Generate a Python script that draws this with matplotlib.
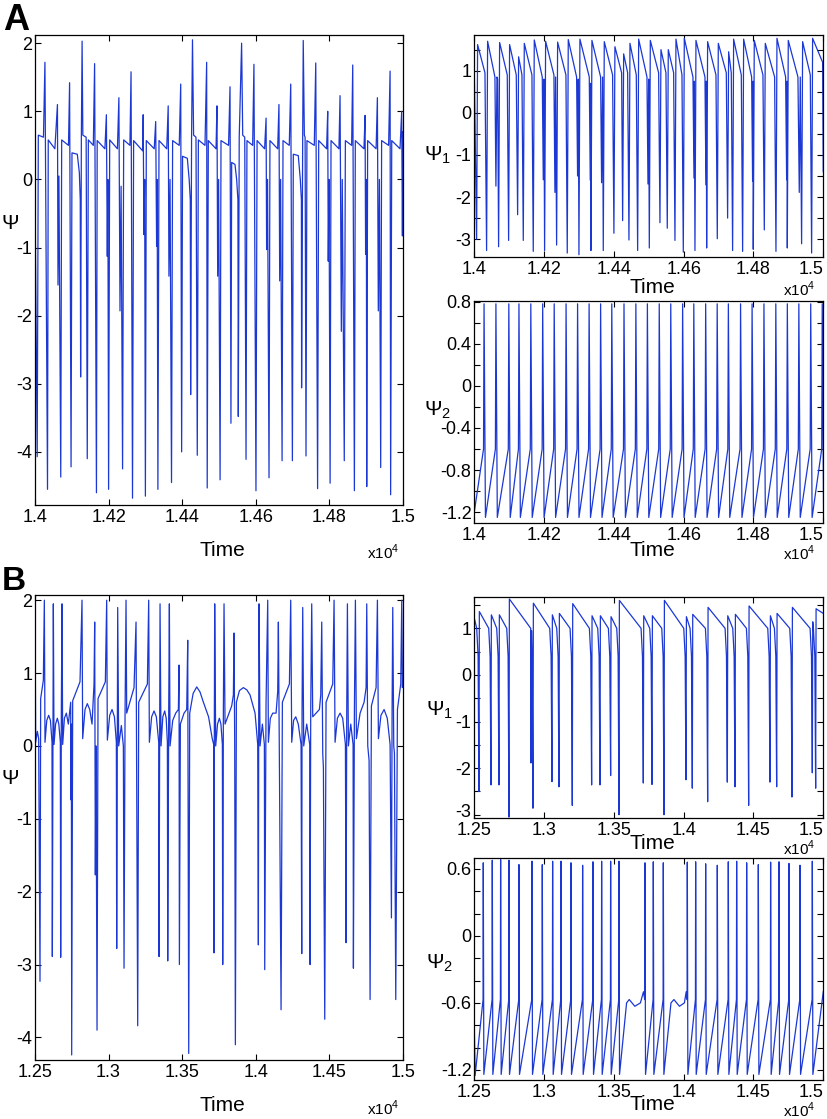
import matplotlib
matplotlib.use('Agg')
import matplotlib.pyplot as plt
from matplotlib.transforms import ScaledTranslation

plt.rcParams['font.family'] = ['Liberation Sans', 'DejaVu Sans']
plt.rcParams['axes.unicode_minus'] = False

# ---------------- data ----------------
# panel A, left: Psi, (time, value) vertices
psiA = [(14000, -0.2), (14006, -4.07), (14009, 0.65), (14023, 0.62), (14027, 1.72), (14034, -4.55),
        (14036, 0.58), (14054, 0.45), (14061, 1.1), (14062.5, -1.55), (14065, 0.05), (14070, -4.37),
        (14072.5, 0.58), (14091, 0.5), (14094, 1.42), (14098, -4.22), (14100.5, 0.39), (14115, 0.37),
        (14120.5, 0.1), (14123, -0.3), (14124, -2.9), (14126, 0.62), (14128, 2.03), (14130, 0.65),
        (14139, 0.62), (14142, -4.1), (14145, 0.58), (14158.5, 0.5), (14162, 1.7), (14167, -4.6),
        (14169, 0.57), (14190, 0.45), (14194, 0.95), (14196.5, -1.13), (14198, 0.0), (14200, -4.55),
        (14203, 0.58), (14224, 0.45), (14228, 1.2), (14231, -1.93), (14234, -0.1), (14238, -4.25),
        (14241, 0.58), (14258, 0.5), (14261, 1.58), (14265, -4.68), (14268, 0.57), (14292.5, 0.42),
        (14294, 0.95), (14296, -0.81), (14298, 0.0), (14300, -4.65), (14302.5, 0.57), (14324, 0.45),
        (14328, 0.85), (14330.5, -0.98), (14332, 0.0), (14334, -4.55), (14337, 0.57), (14358, 0.45),
        (14362, 1.08), (14364, -1.42), (14367, 0.0), (14371, -4.45), (14374, 0.57), (14392, 0.5),
        (14396, 1.4), (14398.5, -4.0), (14401, 0.34), (14414, 0.31), (14419, 0.0), (14422, -0.3),
        (14423, -3.16), (14425.5, 0.62), (14428, 2.05), (14431, 0.65), (14437.5, 0.62), (14441, -4.05),
        (14444, 0.58), (14462, 0.5), (14466.5, 1.72), (14468, -4.53), (14471, 0.57), (14492, 0.45),
        (14494.5, 1.08), (14496.5, -1.42), (14499, 0.0), (14503, -4.41), (14505.5, 0.57), (14526, 0.5),
        (14530, 1.36), (14532.5, -3.58), (14534.5, 0.25), (14543.5, 0.22), (14548, 0.0), (14551.5, -0.3),
        (14552.5, -3.48), (14555, 0.62), (14561.5, 2.0), (14564.5, 0.65), (14570, 0.62), (14573.5, -4.11),
        (14576, 0.57), (14591.5, 0.5), (14595, 1.69), (14600.5, -4.57), (14603.5, 0.57), (14624, 0.45),
        (14628, 0.9), (14629.5, -1.03), (14632, 0.0), (14636, -4.38), (14638.5, 0.57), (14659.5, 0.45),
        (14663, 1.1), (14665, -1.49), (14667.5, 0.0), (14671.5, -4.13), (14674, 0.57), (14691, 0.5),
        (14695, 1.4), (14699.5, -4.13), (14702, 0.37), (14715.5, 0.35), (14721, 0.0), (14724, -0.3),
        (14724.5, -3.06), (14727.5, 0.62), (14729, 2.04), (14732, 0.65), (14734, 0.62), (14736.5, -4.06),
        (14739, 0.57), (14759, 0.5), (14763, 1.71), (14768, -4.54), (14771, 0.57), (14792.5, 0.45),
        (14795.5, 1.0), (14797, -1.2), (14799, 0.0), (14802, -4.46), (14804.5, 0.57), (14826, 0.45),
        (14829, 1.23), (14832.5, -2.23), (14835, 0.0), (14840.5, -4.13), (14843.5, 0.57), (14860.5, 0.5),
        (14863.5, 1.68), (14868, -4.57), (14870.5, 0.57), (14894, 0.45), (14897, 0.94), (14898.5, -1.1),
        (14900.5, 0.0), (14901.5, -4.51), (14904, 0.57), (14927, 0.45), (14930.5, 1.2), (14933, -1.93),
        (14936, 0.0), (14939.5, -4.23), (14942, 0.57), (14961, 0.5), (14965, 1.59), (14966.5, -4.63),
        (14969.5, 0.57), (14992, 0.45), (14996.5, 1.0), (14998.5, -0.83), (15000, 0.7)]

# panel A, Psi1
psi1A = [(14000, 1.0), (14006.7, -3.0), (14009.5, 1.62), (14030.6, 0.95), (14035.3, -3.27), (14038.2, 1.7),
         (14059.2, 0.85), (14062, -1.74), (14065, 0.85), (14066.9, 0.8), (14069.7, -3.18), (14072.6, 1.67),
         (14094.5, 0.9), (14098.4, -3.03), (14101.2, 1.62), (14120.3, 0.9), (14124.2, -2.42), (14127, 1.33),
         (14136.6, 0.9), (14140.4, -3.03), (14143.3, 1.65), (14165.2, 0.9), (14169, -3.29), (14171.9, 1.73),
         (14194.8, 0.85), (14197.7, -1.59), (14199.6, 0.8), (14201.5, -3.27), (14204.4, 1.7), (14228.2, 0.9),
         (14231.1, -1.89), (14233, 0.85), (14235.9, -3.14), (14238.8, 1.68), (14262.6, 0.9), (14266.4, -3.33),
         (14269.3, 1.74), (14293.2, 0.85), (14296, -1.5), (14298, 0.8), (14299.9, -3.37), (14302.7, 1.75),
         (14329.5, 0.85), (14332.3, -1.6), (14333.3, 0.7), (14334.3, -3.27), (14337.1, 1.72), (14362, 0.85),
         (14364.8, -1.66), (14367.7, 0.85), (14369.6, -3.27), (14372.5, 1.69), (14396.3, 0.9), (14400.1, -2.86),
         (14403, 1.57), (14422.2, 0.95), (14425.1, -2.56), (14428, 1.4), (14439.4, 0.95), (14443.2, -3.02),
         (14446.1, 1.65), (14464.2, 0.9), (14468.1, -3.27), (14471, 1.75), (14494.8, 0.85), (14497.7, -1.69),
         (14499.6, 0.8), (14501.5, -3.21), (14504.4, 1.72), (14528.2, 0.95), (14532, -2.61), (14534.9, 1.5),
         (14549.2, 0.95), (14553, -2.74), (14555.9, 1.5), (14571.2, 0.95), (14575, -3.03), (14577.9, 1.75),
         (14595.1, 0.9), (14598.9, -3.31), (14601.8, 1.77), (14626.6, 0.85), (14629.5, -1.55), (14630.4, 0.75),
         (14632.3, -3.27), (14635.2, 1.72), (14661, 0.85), (14663.8, -1.71), (14664.8, 0.75), (14665.8, -3.21),
         (14668.6, 1.69), (14692.5, 0.9), (14696.3, -2.99), (14699.2, 1.65), (14722.1, 0.95), (14725.9, -2.5),
         (14728.8, 1.45), (14736.4, 0.95), (14740.2, -3.27), (14743.1, 1.75), (14765.1, 0.9), (14768.9, -3.29),
         (14771.8, 1.75), (14794.7, 0.85), (14797.5, -1.63), (14798.5, 0.75), (14799.4, -3.24), (14802.3, 1.72),
         (14827.1, 0.9), (14831, -2.78), (14833.8, 1.65), (14860.6, 0.85), (14864.4, -3.29), (14867.3, 1.77),
         (14892.1, 0.85), (14895, -1.59), (14895.9, 0.75), (14896.9, -3.21), (14899.7, 1.72), (14927.4, 0.85),
         (14931.2, -1.89), (14934.1, 0.85), (14937.9, -3.11), (14940.8, 1.69), (14962.8, 0.9), (14966.6, -3.33),
         (14969.4, 1.77), (14998.1, 1.2), (15000, -1.4)]

# panel A, Psi2: spike times, all spikes reach the same top/bottom
psi2A_spikes = [14028, 14062, 14099, 14128, 14162, 14196, 14229, 14263, 14296, 14329, 14362, 14394,
                14429, 14463, 14496, 14530, 14563, 14597, 14629, 14663, 14696, 14728, 14763, 14796,
                14830, 14864, 14897, 14930, 14964, 14997]
psi2A_start = [(14000, -1.2)]
psi2A_peak, psi2A_trough, psi2A_pre = 0.78, -1.25, -0.6

# panel B, left: Psi
psiB = [(12500, 1.95), (12504.5, 0.05), (12515.9, 0.2), (12524.9, 0.1), (12534, -3.23), (12538.5, 0.65),
        (12556.7, 0.9), (12563.5, 2.0), (12568, 0.05), (12580, 0.35), (12592.9, 0.42), (12605, 0.35),
        (12615.6, 0.05), (12617.9, -2.89),
        (12622.4, 0.5), (12624.7, 1.95), (12629.2, 0.02), (12640, 0.3), (12651.9, 0.38), (12662, 0.3),
        (12672.3, 0.05), (12674.6, -2.9),
        (12679.1, 0.5), (12683.6, 1.95), (12688.2, 0.02), (12700, 0.38), (12713.1, 0.45), (12726.7, 0.3),
        (12742.6, 0.6),
        (12744.8, -0.74), (12747.1, 0.3), (12749.4, -4.24), (12756.2, 0.62), (12806, 0.88), (12819.6, 2.0),
        (12824.2, 0.1), (12840, 0.5), (12855.9, 0.58), (12872, 0.5), (12887.7, 0.3), (12901.3, 0.85),
        (12905.8, 1.7), (12910.3, -1.77),
        (12914.9, 0.0), (12921.7, -3.9), (12928.5, 0.65), (12978.3, 0.88), (12987.4, 2.0), (12991.9, 0.08),
        (13008, 0.42), (13023.7, 0.5), (13040, 0.4), (13053.1, 0.05), (13055.4, -2.78), (13059.9, 0.5),
        (13062.2, 1.9), (13069, 0.0),
        (13087.1, 0.28), (13100.8, 0.0), (13105.3, -3.05), (13112.1, 0.4), (13118.9, 2.0), (13123.4, 0.45),
        (13173.3, 0.8), (13186.9, 1.7), (13191.4, -0.4), (13198.2, -3.84), (13205, 0.6), (13264, 0.85),
        (13273, 2.0), (13277.6, 0.05), (13293, 0.4), (13309.3, 0.48), (13325, 0.4), (13341.1, 0.05),
        (13343.3, -2.89), (13347.9, 0.5),
        (13350.1, 1.95), (13356.9, 0.0), (13369, 0.4), (13381.9, 0.48), (13392, 0.38), (13400, 0.05),
        (13402.3, -2.95), (13409.1, 0.5),
        (13413.6, 1.95), (13418.1, 0.0), (13436.3, 0.35), (13456.7, 0.45), (13474.8, 0.5), (13479.3, 1.11),
        (13481.6, -3.0), (13488.4, 0.3), (13513.3, 0.45), (13531.5, 0.5), (13538.3, 1.45), (13545.1, -4.22),
        (13551.9, 0.45), (13575, 0.72), (13599.5, 0.81), (13622, 0.74), (13644.8, 0.6), (13680, 0.4),
        (13705, 0.1), (13714.9, 0.02),
        (13717.2, -2.84), (13719.5, 0.5), (13721.7, 1.95), (13728.5, 0.0), (13741, 0.3), (13753.5, 0.38),
        (13764, 0.3), (13773.9, 0.02),
        (13776.2, -3.0), (13780.7, 0.5), (13785.2, 1.95), (13792, 0.3), (13837.4, 0.55), (13848.7, 0.7),
        (13853.2, 1.55), (13857.8, 0.0), (13862.3, -4.1), (13869.1, 0.6), (13890, 0.76), (13916.7, 0.8),
        (13940, 0.77), (13962, 0.7),
        (13996.1, 0.45), (14014.2, 0.02), (14018.7, -2.73), (14021, 0.5), (14023.3, 1.95), (14030.1, 0.0),
        (14045.9, 0.3), (14059.5, 0.02), (14061.8, -3.07), (14070.9, 0.6), (14082.2, 2.0), (14086.7, 0.05),
        (14100, 0.38), (14116.2, 0.45), (14138.9, 0.45), (14150.2, 0.75), (14154.7, 1.7), (14161.5, -0.2),
        (14172.9, -3.62),
        (14181.9, 0.6), (14229.6, 0.85), (14238.6, 2.0), (14245.4, 0.05), (14258, 0.35), (14272.6, 0.4),
        (14290, 0.3), (14308.9, 0.02),
        (14313.4, -2.85), (14315.7, 0.5), (14320.2, 1.9), (14327, 0.0), (14347.4, 0.3), (14367.8, 0.02),
        (14370.1, -3.0), (14374.6, 0.5), (14381.4, 1.95), (14388.2, 0.4), (14433.6, 0.5), (14442.7, 0.7),
        (14449.5, 1.7), (14456.3, -0.1), (14460.8, -0.3), (14469.9, -3.75), (14478.9, 0.6), (14524.3, 0.85),
        (14533.3, 2.0), (14540.1, 0.05), (14556, 0.38), (14574.1, 0.45), (14592, 0.38), (14610.4, 0.02),
        (14614.9, -2.7), (14619.5, 0.5),
        (14624, 1.95), (14630.8, 0.0), (14646.7, 0.3), (14662.6, 0.02), (14664.8, -3.05), (14671.6, 0.5),
        (14678.4, 2.0), (14685.2, 0.1), (14710.2, 0.45), (14737.4, 0.6), (14751, 0.8), (14755.5, 1.95),
        (14762.3, 0.0), (14771.4, -0.2), (14778.2, -3.48), (14787.2, 0.55), (14819, 0.8), (14828, 2.0),
        (14834.8, 0.1), (14852, 0.42), (14873.4, 0.5), (14895, 0.38), (14914.2, 0.02), (14923.3, -2.36),
        (14927.8, 0.5), (14932.3, 1.9),
        (14939.1, 0.0), (14943.7, -0.1), (14952.7, -3.48), (14964.1, 0.5), (14986.7, 0.85), (14993.5, 2.0),
        (14998, 0.8), (15000, 0.9)]

# panel B, Psi1: fast drops (time, trough) and the peak right after
psi1B_drops = [12533.4, 12619.4, 12676.7, 12748.4, 12920.3, 13056.4, 13106.6, 13202.1, 13340.6,
               13400.3, 13476.7, 13536.5, 13710.8, 13772.9, 13858.9, 14016.5, 14061.8, 14171.7,
               14312.6, 14367.5, 14465.4, 14618.2, 14666.0, 14775.8, 14921.5, 14945.4]
psi1B_troughs = [-2.5, -2.36, -2.36, -3.05, -2.86, -2.29, -2.4, -2.8, -2.36, -2.36, -2.16, -3.0, -2.32,
                 -2.35, -3.0, -2.25, -2.43, -2.72, -2.3, -2.4, -2.8, -2.3, -2.4, -2.62, -2.1, -2.43]
psi1B_peaks = [1.36, 1.29, 1.29, 1.63, 1.54, 1.29, 1.32, 1.53, 1.27, 1.27, 1.25, 1.6, 1.27, 1.27, 1.6,
               1.25, 1.3, 1.45, 1.27, 1.3, 1.48, 1.27, 1.32, 1.45, 1.14, 1.42]
psi1B_extra = [(12500, 1.22), (12745.5, -1.36), (12906, -1.89), (12910, 0.95), (15000, 1.32)]
psi1B_shoulder, psi1B_knee = 1.0, 0.4

# panel B, Psi2: spike times and spike tops
psi2B_spikes = [12564.5, 12629, 12688.7, 12748.4, 12820, 12913.1, 12987.2, 13061.2, 13120.9, 13192.5,
                13276.1, 13350.1, 13412.2, 13476.7, 13536.5, 13722.7, 13782.4, 13854.1, 14026, 14085.7,
                14157.4, 14240.9, 14319.7, 14379.4, 14451.1, 14534.7, 14622.7, 14682.7, 14754.3,
                14833.2, 14921.5]
psi2B_peaks = [0.654, 0.677, 0.683, 0.677, 0.638, 0.668, 0.638, 0.668, 0.668, 0.654, 0.632, 0.663,
               0.668, 0.668, 0.668, 0.654, 0.663, 0.654, 0.66, 0.663, 0.645, 0.632, 0.663, 0.668,
               0.654, 0.638, 0.66, 0.663, 0.648, 0.632, 0.668]
# slow plateaus between spikes, plus start / end of the trace
psi2B_extra = [(12500, -0.8), (12506, -1.25), (13591, -0.6), (13610, -0.57), (13650, -0.63), (13690, -0.6),
               (13712, -0.5), (13909, -0.6), (13930, -0.57), (13970, -0.63), (14005, -0.6), (14018, -0.5),
               (15000, -0.5)]
psi2B_trough, psi2B_pre = -1.24, -0.57

ticksA = [14000, 14200, 14400, 14600, 14800, 15000]
ticksB_left = [12500, 13000, 13500, 14000, 14500, 15000]
ticksB = [12500, 13000, 13500, 14000, 14500, 15000]

BLUE = '#1c38d4'


def unzip(pts):
    pts = sorted(pts)
    return [p[0] for p in pts], [p[1] for p in pts]


def spike_trace(spikes, peaks, trough, pre, extra):
    # each spike: jump up from the pre level, fall back to the trough
    pts = list(extra)
    for t, p in zip(spikes, peaks):
        pts += [(t - 1.5, pre), (t, p), (t + 4, trough)]
    return unzip(pts)


def drop_trace(drops, troughs, peaks, shoulder, knee, extra):
    # slow decay, sharp fall to the trough, sharp rise to the next peak
    pts = list(extra)
    for t, lo, hi in zip(drops, troughs, peaks):
        pts += [(t - 16, shoulder), (t - 6, knee), (t, lo), (t + 3, hi)]
    return unzip(pts)


def style(ax, xlim, xticks, ylim, yticks, ylabels, ylab, ylab_xy, time_y, x10_xy, right_panel):
    ax.set_xlim(*xlim)
    ax.set_ylim(*ylim)
    ax.set_xticks(xticks)
    ax.set_xticklabels(['%g' % (x / 1e4) for x in xticks])
    ax.set_yticks(yticks)
    ax.set_yticklabels(ylabels)
    ax.tick_params(direction='in', top=True, right=True, length=4, width=0.8,
                   labelsize=13, colors='black')
    ax.tick_params(axis='x', pad=3)
    ax.tick_params(axis='y', pad=2)
    if right_panel:
        # last label sits inside the figure, flush with the axis end
        ax.get_xticklabels()[-1].set_ha('right')
    for s in ax.spines.values():
        s.set_linewidth(0.9)
    ax.set_ylabel(ylab, fontsize=15, rotation=0)
    ax.yaxis.set_label_coords(*ylab_xy)
    ax.yaxis.label.set_va('center')
    ax.yaxis.label.set_ha('center')
    ax.set_xlabel('Time', fontsize=15)
    ax.xaxis.set_label_coords(0.51, time_y)
    ax.xaxis.label.set_va('center')
    ax.text(x10_xy[0], x10_xy[1], r'x10$^{\mathregular{4}}$', transform=ax.transAxes,
            ha='center', va='center', fontsize=11)


def lbl(vals, keep):
    return ['%g' % round(v, 1) if keep(v) else '' for v in vals]


fig = plt.figure(figsize=(8.28, 11.19), dpi=100)

# ---- A left
ax = fig.add_axes([0.04227, 0.5487, 0.4444, 0.4200])
t, v = unzip(psiA)
ax.plot(t, v, color=BLUE, lw=0.9)
yt = [-4, -3, -2, -1, 0, 1, 2]
style(ax, (14000, 15000), ticksA, (-4.78, 2.12), yt, lbl(yt, lambda y: True),
      'Ψ', (-0.068, 0.60), -0.097, (0.946, -0.1), False)

# ---- A right top
ax = fig.add_axes([0.5728, 0.7701, 0.4215, 0.1987])
t, v = unzip(psi1A)
ax.plot(t, v, color=BLUE, lw=0.9)
yt = [-3, -2.5, -2, -1.5, -1, -0.5, 0, 0.5, 1, 1.5]
style(ax, (14000, 15000), ticksA, (-3.43, 1.85), yt, lbl(yt, lambda y: y == int(y)),
      'Ψ$_{\\mathregular{1}}$', (-0.105, 0.46), -0.134, (0.93, -0.145), True)

# ---- A right bottom
ax = fig.add_axes([0.5728, 0.5329, 0.4215, 0.1984])
t, v = spike_trace(psi2A_spikes, [psi2A_peak] * len(psi2A_spikes), psi2A_trough, psi2A_pre, psi2A_start)
ax.plot(t, v, color=BLUE, lw=0.9)
yt = [-1.2, -1.0, -0.8, -0.6, -0.4, -0.2, 0, 0.2, 0.4, 0.6, 0.8]
style(ax, (14000, 15000), ticksA, (-1.3, 0.81), yt, lbl(yt, lambda y: round(y * 10) % 4 == 0),
      'Ψ$_{\\mathregular{2}}$', (-0.105, 0.505), -0.127, (0.93, -0.14), True)

# ---- B left
ax = fig.add_axes([0.04227, 0.0527, 0.4441, 0.4155])
t, v = unzip(psiB)
ax.plot(t, v, color=BLUE, lw=0.9)
yt = [-4, -3, -2, -1, 0, 1, 2]
style(ax, (12500, 15000), ticksB_left, (-4.31, 2.07), yt,
      lbl(yt, lambda y: True), 'Ψ', (-0.068, 0.606), -0.097, (0.946, -0.103), False)

# ---- B right top
ax = fig.add_axes([0.5728, 0.2690, 0.4215, 0.1978])
t, v = drop_trace(psi1B_drops, psi1B_troughs, psi1B_peaks, psi1B_shoulder, psi1B_knee, psi1B_extra)
ax.plot(t, v, color=BLUE, lw=0.9)
yt = [-3, -2.5, -2, -1.5, -1, -0.5, 0, 0.5, 1, 1.5]
style(ax, (12500, 15000), ticksB, (-3.07, 1.68), yt, lbl(yt, lambda y: y == int(y)),
      'Ψ$_{\\mathregular{1}}$', (-0.1, 0.488), -0.113, (0.93, -0.138), True)
# the bottom label "-3" sits right on the axis corner: lift it a touch
low = ax.get_yticklabels()[0]
low.set_transform(low.get_transform() + ScaledTranslation(0, 3 / 72, fig.dpi_scale_trans))

# ---- B right bottom
ax = fig.add_axes([0.5728, 0.03485, 0.4215, 0.1987])
t, v = spike_trace(psi2B_spikes, psi2B_peaks, psi2B_trough, psi2B_pre, psi2B_extra)
ax.plot(t, v, color=BLUE, lw=0.9)
yt = [-1.2, -1.0, -0.8, -0.6, -0.4, -0.2, 0, 0.2, 0.4, 0.6]
style(ax, (12500, 15000), ticksB, (-1.29, 0.70), yt, lbl(yt, lambda y: round(y * 10) % 6 == 0),
      'Ψ$_{\\mathregular{2}}$', (-0.1, 0.526), -0.112, (0.93, -0.137), True)

fig.text(16 / 828, 1 - 20 / 1119, 'A', fontsize=26, fontweight='bold', ha='center', va='center')
fig.text(14 / 828, 1 - 582 / 1119, 'B', fontsize=24, fontweight='bold', ha='center', va='center')

fig.savefig('out.png', dpi=100)
